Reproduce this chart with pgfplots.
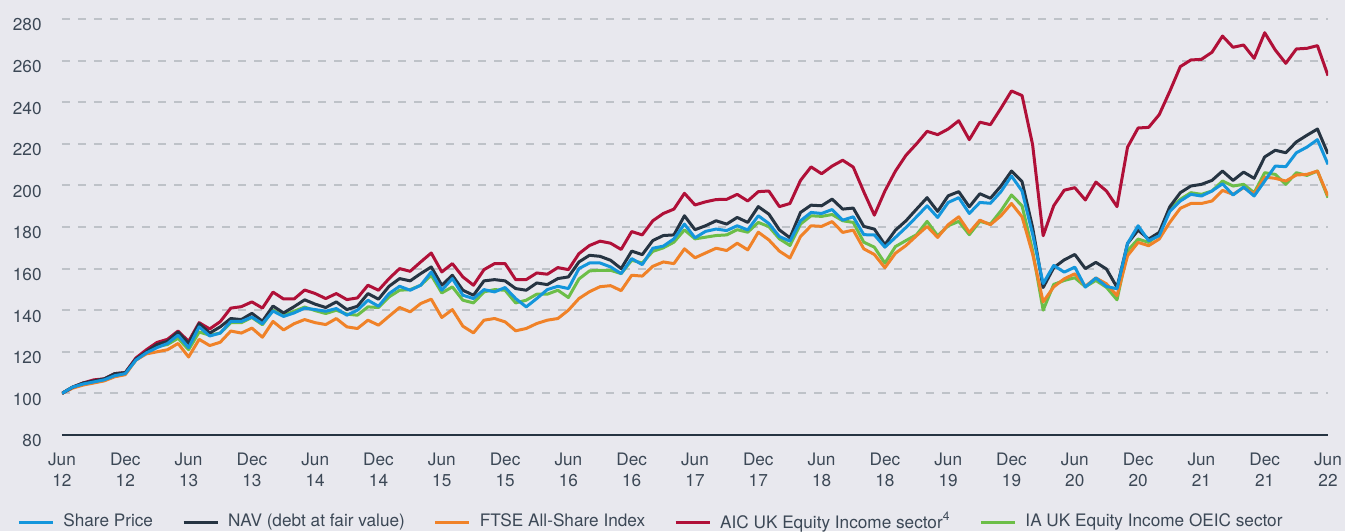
\documentclass[border=0pt]{standalone}
\usepackage{pgfplots}
\pgfplotsset{compat=1.18}
\usepackage{pgfplotstable}
\usepackage{fontspec}
\setmainfont{TeX Gyre Heros}
\definecolor{bg}{RGB}{232,232,238}
\definecolor{txt}{RGB}{60,72,86}
\definecolor{cSP}{RGB}{20,150,220}
\definecolor{cNAV}{RGB}{38,52,66}
\definecolor{cFT}{RGB}{240,130,40}
\definecolor{cAIC}{RGB}{176,16,56}
\definecolor{cIA}{RGB}{108,190,72}
\definecolor{gridc}{RGB}{190,194,200}

\pgfplotstableread{
m sp nav ftse aic ia
0 100 100 100 100 100
1 103 103 102.5 103 103
2 104.5 105 104 105 104.5
3 105.5 106 105 106.5 105.5
4 106.5 107 106 107 106.5
5 108.5 109.5 108 109.5 108.5
6 109.5 110 109 110 109.5
7 116 116.5 116 117 116
8 119.5 120 119 121 119.5
9 122 123.5 120 124.5 122.5
10 124 125 121 126 123.5
11 128 129.5 124 130 126.5
12 122 124 117.5 125 121
13 132 133.5 126 134 129.5
14 127.6 129 123 131 128
15 129 132 124.6 134.5 129
16 134.6 136 130 141 134
17 134.6 135.5 129 141.7 134
18 136.7 138.5 131.4 144 136.5
19 133.5 134.7 127 141 133
20 139.6 142 134.6 148.7 140
21 137 138.7 130.5 145.4 137.5
22 138.7 141.7 133.5 145.4 139.5
23 141 145 135.5 149.7 141.5
24 140.3 142.9 134 148 139.8
25 139.5 141.3 133.1 145.6 138.4
26 140.8 144 136 148 140
27 137.6 140.3 132 145.1 138.1
28 140 141.9 131.2 145.9 137.6
29 144.8 148 135.2 152 141.6
30 141.9 145.3 132.8 149.6 141.3
31 148 151.5 137.1 155.2 146.4
32 151.5 155.2 141.3 160 149.6
33 149.6 154.1 139.2 158.7 149.9
34 152 157.6 143.2 163.2 152
35 158.4 160.8 145.3 167.5 156.8
36 149.6 152 136.5 158.4 148.3
37 155.2 156.8 140.3 162.4 151.2
38 147.2 149.6 132.3 156 144.8
39 145.6 147.2 129.1 152 143.5
40 149.9 154.1 135.2 159.5 148.8
41 148.8 154.7 136 162.4 149.9
42 150.9 154.1 134.4 162.4 149.6
43 145.6 150.4 130.1 154.7 143.5
44 141.6 149.6 131.2 154.7 144.8
45 145.6 153.1 133.6 157.9 147.7
46 149.9 152.3 135.2 157.3 147.7
47 151.5 155.2 136 160.5 149.6
48 150.4 156 140 159.5 146.1
49 160 163.2 145.6 167.2 155
50 162.7 166.4 148.9 171.1 158.9
51 162.7 165.9 151.3 173.2 159.2
52 160.8 164 151.8 172.2 159.2
53 157.6 160 149.4 169.2 157.6
54 164.8 168.4 156.8 177.8 164
55 161.9 166.7 156.4 176.2 162.7
56 169.8 173.5 161.1 183 168.3
57 170.8 175.9 163.2 186.5 170
58 174.3 176.2 162.4 188.6 172.7
59 181.4 185.4 169.5 196.2 178.6
60 174.8 178.7 165.2 190.6 174.3
61 177.9 180.6 167.5 192.1 175.1
62 179 183 169.8 193.2 175.9
63 178.3 181.4 168.7 193.3 176.2
64 180.6 184.6 172.2 195.7 178.7
65 178.6 182.2 169 192.5 177.5
66 185.4 189.8 177.5 197 182.2
67 181.7 186.2 173.8 197.3 180.2
68 175.4 178.6 168.4 189.8 174.3
69 173.2 174.8 165.1 191.3 171.1
70 183 187 175.4 202.4 181.4
71 187 190.5 180.6 208.9 185.4
72 186.5 190.2 180.3 205.6 185.1
73 188.4 193.4 182.6 209.3 186
74 183.3 188.6 177.4 212.1 183
75 184.9 189.1 178.5 208.8 182.2
76 176.3 180.3 169.5 196.9 172.7
77 176.2 179 166.8 185.7 170.3
78 170.3 171.5 160.4 197.3 162.6
79 175 178.5 167.4 206.9 170.6
80 179.8 183 171.1 214.5 173.5
81 184.9 188.6 175.8 220 176.3
82 190.2 194.1 180.3 226 182.7
83 184.6 187.5 175 224.4 175.8
84 191.8 195 181.1 227.1 180.6
85 194.1 197 184.9 231.1 182.7
86 186.5 189.7 177.4 222 176.3
87 191.8 196 183.3 230.4 182.7
88 191.4 193.8 181.1 229.2 181.4
89 197 199.7 185.4 237.1 187.8
90 204.5 206.9 191.3 245.4 195.4
91 197.3 201.8 184.9 243.2 190.2
92 176.6 179.8 167.1 219.6 168.7
93 152.8 150.9 144 175.8 140
94 161.5 160.4 151.2 190.2 152.4
95 158.3 164.2 155.1 197.7 154.3
96 160.7 166.8 157.5 198.9 155.6
97 151.1 160 151.5 193 151.3
98 155.5 163 155.5 201.6 154.3
99 151.4 159.8 152.7 197.3 151
100 150.3 151 147 189.8 145
101 172.1 172.1 166.2 218.4 168.6
102 180.6 178.5 172.6 227.6 174.2
103 173.4 174.2 171 227.9 172.6
104 175.8 177.4 174.2 234 176.6
105 187.4 189.7 182.2 245.2 188.5
106 192.5 196.5 189 257.1 193.3
107 195.7 199.7 191.3 260.3 196.5
108 194.9 200.5 191.3 260.6 195.7
109 197.3 202.4 192.5 264 197.3
110 200.8 206.9 197.6 271.8 202.1
111 195.4 202.4 195.7 266.4 199.7
112 199.2 206.4 198.9 267.5 200.5
113 194.9 203.4 196 261.1 196.5
114 202.1 213.7 204 273.4 206.1
115 209.3 216.9 203.4 265.1 205.3
116 209 215.7 202.1 258.7 200.5
117 215.7 220.9 205 265.6 206.1
118 218.4 224.1 205.3 265.9 204.8
119 222 227.1 206.9 267.2 206.9
120 210.1 215.2 194.9 252.8 194.1
}\data

\begin{document}
\begin{tikzpicture}
\path[use as bounding box, fill=bg] (-31pt,-48pt) rectangle (641.5pt,217.5pt);
\begin{axis}[
  at={(0,0)}, anchor=south west,
  scale only axis, width=633pt, height=208pt,
  xmin=0, xmax=120, ymin=80, ymax=280,
  xtick={0,6,...,120},
  xticklabels={{Jun\\12},{Dec\\12},{Jun\\13},{Dec\\13},{Jun\\14},{Dec\\14},{Jun\\15},{Dec\\15},{Jun\\16},{Dec\\16},{Jun\\17},{Dec\\17},{Jun\\18},{Dec\\18},{Jun\\19},{Dec\\19},{Jun\\20},{Dec\\20},{Jun\\21},{Dec\\21},{Jun\\22}},
  ytick={80,100,...,280},
  axis x line*=bottom, axis y line*=left,
  x axis line style={-, line width=1.3pt, color=cNAV},
  y axis line style={draw=none},
  major tick length=0pt,
  ymajorgrids,
  major grid style={gridc, line width=1pt, dash pattern=on 4pt off 4pt},
  tick label style={font=\fontsize{8.6}{10.5}\selectfont, text=txt},
  /pgf/number format/assume math mode=true,
  yticklabel style={anchor=east, inner sep=0pt, xshift=-10pt, yshift=-3pt},
  xticklabel style={anchor=north, inner sep=0pt, yshift=-9pt, align=center},
  legend columns=5,
  legend style={at={(0,0)}, anchor=west, xshift=-22.5pt, yshift=-43.5pt,
    draw=none, fill=none, inner sep=0pt,
    font=\fontsize{8.6}{10.5}\selectfont, text=txt,
    nodes={inner sep=0pt},
    /tikz/every odd column/.append style={column sep=4.5pt},
    /tikz/every even column/.append style={column sep=14.5pt}},
  legend image code/.code={\draw[#1] (0pt,0pt) -- (17pt,0pt);},
]
\addlegendimage{cSP, line width=1.5pt}
\addlegendentry{Share Price}
\addlegendimage{cNAV, line width=1.5pt}
\addlegendentry{NAV (debt at fair value)}
\addlegendimage{cFT, line width=1.5pt}
\addlegendentry{FTSE All-Share Index}
\addlegendimage{cAIC, line width=1.5pt}
\addlegendentry{AIC UK Equity Income sector\textsuperscript{4}}
\addlegendimage{cIA, line width=1.5pt}
\addlegendentry{IA UK Equity Income OEIC sector}

\addplot[cIA, line width=1.5pt, line join=round, forget plot] table[x=m, y=ia] {\data};
\addplot[cFT, line width=1.5pt, line join=round, forget plot] table[x=m, y=ftse] {\data};
\addplot[cAIC, line width=1.5pt, line join=round, forget plot] table[x=m, y=aic] {\data};
\addplot[cNAV, line width=1.5pt, line join=round, forget plot] table[x=m, y=nav] {\data};
\addplot[cSP, line width=1.5pt, line join=round, forget plot] table[x=m, y=sp] {\data};
\end{axis}
\end{tikzpicture}
\end{document}
